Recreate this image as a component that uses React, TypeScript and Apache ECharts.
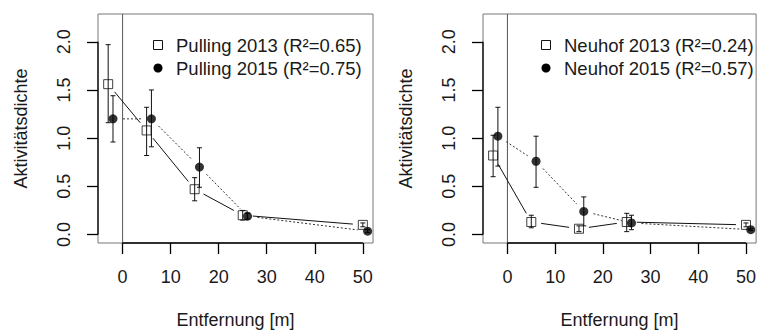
import React, { useEffect, useRef } from "react";
import * as echarts from "echarts";

// ---- data ----
const xTicks = [0, 10, 20, 30, 40, 50];
const yTicks = [0, 0.5, 1.0, 1.5, 2.0];

const dist2013 = [-3, 5, 15, 25, 50];
const dist2015 = [-2, 6, 16, 26, 51];

const pulling2013 = [1.56, 1.08, 0.47, 0.2, 0.1];
const pulling2013Low = [1.16, 0.82, 0.35, 0.15, 0.08];
const pulling2013High = [1.97, 1.32, 0.59, 0.25, 0.12];
const pulling2015 = [1.2, 1.2, 0.7, 0.19, 0.035];
const pulling2015Low = [0.96, 0.91, 0.49, 0.16, 0.02];
const pulling2015High = [1.44, 1.5, 0.9, 0.22, 0.05];

const neuhof2013 = [0.82, 0.13, 0.06, 0.13, 0.1];
const neuhof2013Low = [0.6, 0.07, 0.03, 0.03, 0.08];
const neuhof2013High = [1.03, 0.2, 0.09, 0.22, 0.12];
const neuhof2015 = [1.02, 0.76, 0.24, 0.12, 0.05];
const neuhof2015Low = [0.71, 0.49, 0.09, 0.05, 0.04];
const neuhof2015High = [1.32, 1.02, 0.39, 0.2, 0.06];

const legendPulling = ["Pulling 2013 (R²=0.65)", "Pulling 2015 (R²=0.75)"];
const legendNeuhof = ["Neuhof 2013 (R²=0.24)", "Neuhof 2015 (R²=0.57)"];

const xTitle = "Entfernung [m]";
const yTitle = "Aktivitätsdichte";

// ---- layout / style ----
const XMIN = -5.12;
const XMAX = 52.12;
const YMIN = -0.088;
const YMAX = 2.288;
const FONT = "'Liberation Sans', Arial, Helvetica, sans-serif";
const TXT = "#1a1a1a";
const GAP = 10;

function gapLine(xs: number[], ys: number[], dashed: boolean) {
  return (params: any, api: any) => {
    const i = params.dataIndex;
    if (i >= xs.length - 1) return null;
    const a = api.coord([xs[i], ys[i]]);
    const b = api.coord([xs[i + 1], ys[i + 1]]);
    const dx = b[0] - a[0];
    const dy = b[1] - a[1];
    const len = Math.hypot(dx, dy);
    if (len <= 2 * GAP + 1) return null;
    const ux = dx / len;
    const uy = dy / len;
    return {
      type: "line",
      shape: {
        x1: a[0] + ux * GAP,
        y1: a[1] + uy * GAP,
        x2: b[0] - ux * GAP,
        y2: b[1] - uy * GAP,
      },
      style: {
        stroke: dashed ? "#333" : "#111",
        lineWidth: 1,
        lineDash: dashed ? [2, 2] : null,
      },
    };
  };
}

function errRender(params: any, api: any) {
  const x = api.value(0);
  const p1 = api.coord([x, api.value(1)]);
  const p2 = api.coord([x, api.value(2)]);
  const c = 2.5;
  const st = { stroke: "#111", lineWidth: 1 };
  return {
    type: "group",
    children: [
      { type: "line", shape: { x1: p1[0], y1: p1[1], x2: p2[0], y2: p2[1] }, style: st },
      { type: "line", shape: { x1: p1[0] - c, y1: p1[1], x2: p1[0] + c, y2: p1[1] }, style: st },
      { type: "line", shape: { x1: p2[0] - c, y1: p2[1], x2: p2[0] + c, y2: p2[1] }, style: st },
    ],
  };
}

function frameRender(params: any, api: any) {
  const xa0 = api.coord([xTicks[0], YMIN]);
  const xa1 = api.coord([xTicks[xTicks.length - 1], YMIN]);
  const ya0 = api.coord([XMIN, yTicks[0]]);
  const ya1 = api.coord([XMIN, yTicks[yTicks.length - 1]]);
  const v0 = api.coord([0, YMIN]);
  const v1 = api.coord([0, YMAX]);
  const ax = { stroke: "#000", lineWidth: 1.3 };
  return {
    type: "group",
    children: [
      { type: "line", shape: { x1: v0[0], y1: v0[1], x2: v1[0], y2: v1[1] }, style: { stroke: "#555", lineWidth: 1 } },
      { type: "line", shape: { x1: xa0[0], y1: xa0[1], x2: xa1[0], y2: xa1[1] }, style: ax },
      { type: "line", shape: { x1: ya0[0], y1: ya0[1], x2: ya1[0], y2: ya1[1] }, style: ax },
    ],
  };
}

function zip2(a: number[], b: number[]) {
  return a.map((v, i) => [v, b[i]]);
}
function zip3(a: number[], b: number[], c: number[]) {
  return a.map((v, i) => [v, b[i], c[i]]);
}

function panelSeries(
  idx: number,
  y13: number[],
  l13: number[],
  h13: number[],
  y15: number[],
  l15: number[],
  h15: number[]
) {
  const ax = { xAxisIndex: idx, yAxisIndex: idx };
  return [
    { type: "custom", ...ax, renderItem: frameRender, data: [[0, 0]], silent: true, z: 1 },
    { type: "custom", ...ax, renderItem: gapLine(dist2013, y13, false), data: zip2(dist2013, y13), encode: { x: 0, y: 1 }, z: 2 },
    { type: "custom", ...ax, renderItem: gapLine(dist2015, y15, true), data: zip2(dist2015, y15), encode: { x: 0, y: 1 }, z: 2 },
    { type: "custom", ...ax, renderItem: errRender, data: zip3(dist2013, l13, h13), encode: { x: 0, y: [1, 2] }, z: 3 },
    { type: "custom", ...ax, renderItem: errRender, data: zip3(dist2015, l15, h15), encode: { x: 0, y: [1, 2] }, z: 3 },
    {
      type: "scatter",
      ...ax,
      data: zip2(dist2013, y13),
      symbol: "rect",
      symbolSize: 9,
      itemStyle: { color: "rgba(0,0,0,0)", borderColor: "#111", borderWidth: 1 },
      z: 4,
    },
    {
      type: "scatter",
      ...ax,
      data: zip2(dist2015, y15),
      symbol: "circle",
      symbolSize: 9,
      itemStyle: { color: "#000" },
      z: 5,
    },
  ];
}

function makeXAxis(idx: number) {
  return {
    type: "value",
    gridIndex: idx,
    min: XMIN,
    max: XMAX,
    axisLine: { show: false, onZero: false },
    splitLine: { show: false },
    axisTick: { show: true, customValues: xTicks, length: 11, lineStyle: { color: "#000", width: 1.3 } },
    axisLabel: {
      customValues: xTicks,
      fontSize: 18,
      fontFamily: FONT,
      color: TXT,
      margin: 25,
    },
    name: xTitle,
    nameLocation: "middle",
    nameGap: 68,
    nameTextStyle: { fontSize: 18, fontFamily: FONT, color: TXT },
  };
}

function makeYAxis(idx: number) {
  return {
    type: "value",
    gridIndex: idx,
    min: YMIN,
    max: YMAX,
    axisLine: { show: false, onZero: false },
    splitLine: { show: false },
    axisTick: { show: true, customValues: yTicks, length: 11, lineStyle: { color: "#000", width: 1.3 } },
    axisLabel: {
      customValues: yTicks,
      rotate: 90,
      fontSize: 18,
      fontFamily: FONT,
      color: TXT,
      margin: 25,
      formatter: (v: number) => v.toFixed(1),
    },
    name: yTitle,
    nameLocation: "middle",
    nameGap: 68,
    nameTextStyle: { fontSize: 18, fontFamily: FONT, color: TXT },
  };
}

function legendGraphics(x: number, labels: string[]) {
  const ys = [45, 68];
  return [
    {
      type: "rect",
      shape: { x: x - 4.5, y: ys[0] - 4.5, width: 9, height: 9 },
      style: { fill: "none", stroke: "#111", lineWidth: 1 },
    },
    { type: "circle", shape: { cx: x, cy: ys[1], r: 4.5 }, style: { fill: "#000" } },
    {
      type: "text",
      x: x + 18,
      y: ys[0],
      style: { text: labels[0], fontSize: 18.5, fontFamily: FONT, fill: TXT, textVerticalAlign: "middle", verticalAlign: "middle" },
    },
    {
      type: "text",
      x: x + 18,
      y: ys[1],
      style: { text: labels[1], fontSize: 18.5, fontFamily: FONT, fill: TXT, textVerticalAlign: "middle", verticalAlign: "middle" },
    },
  ];
}

export default function App() {
  const ref = useRef<HTMLDivElement>(null);
  useEffect(() => {
    if (!ref.current) return;
    const chart = echarts.init(ref.current, null, { renderer: "svg" });
    const gridStyle = { show: true, borderColor: "#777", borderWidth: 1, backgroundColor: "transparent" };
    chart.setOption({
      animation: false,
      backgroundColor: "#fff",
      grid: [
        { left: 98, top: 14, width: 275, height: 230, ...gridStyle },
        { left: 483, top: 14, width: 275.5, height: 230, ...gridStyle },
      ],
      xAxis: [makeXAxis(0), makeXAxis(1)],
      yAxis: [makeYAxis(0), makeYAxis(1)],
      series: [
        ...panelSeries(0, pulling2013, pulling2013Low, pulling2013High, pulling2015, pulling2015Low, pulling2015High),
        ...panelSeries(1, neuhof2013, neuhof2013Low, neuhof2013High, neuhof2015, neuhof2015Low, neuhof2015High),
      ],
      graphic: [...legendGraphics(158, legendPulling), ...legendGraphics(546, legendNeuhof)],
    });
    return () => chart.dispose();
  }, []);
  return (
    <div
      ref={ref}
      style={{ position: "fixed", left: 0, top: 0, width: 759, height: 334 }}
    />
  );
}
